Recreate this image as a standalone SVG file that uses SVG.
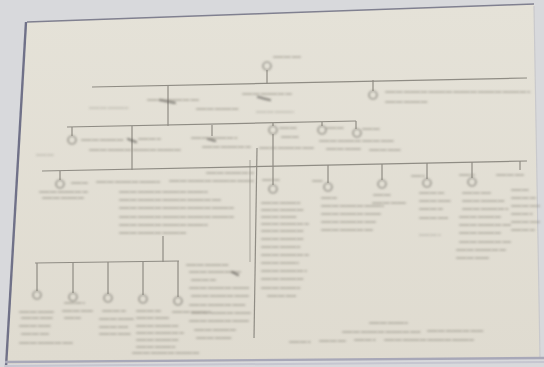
<svg xmlns="http://www.w3.org/2000/svg" width="544" height="367" viewBox="0 0 544 367">
<defs>
<linearGradient id="paper" x1="0" y1="0" x2="0" y2="1">
<stop offset="0" stop-color="#e5e2d8"/>
<stop offset="1" stop-color="#dfdbd0"/>
</linearGradient>
<filter id="bl" x="-5%" y="-5%" width="110%" height="110%"><feGaussianBlur stdDeviation="0.6"/></filter>
<filter id="bt" x="-5%" y="-20%" width="110%" height="140%"><feGaussianBlur stdDeviation="0.9"/></filter>
</defs>
<style>
.c{stroke:#8f8c84;stroke-width:1.2;fill:none}
.n{fill:none;stroke:#85827a;stroke-width:1.2}
.h{fill:none;stroke:#8d897f;stroke-width:2.2;stroke-linecap:round;stroke-dasharray:2.5 1 1.5 .8 3 2.2 1.8 1 2 2.8 1.2 .9 2.6 1.4;opacity:.45}
.f{opacity:.28}
.d{fill:none;stroke:#5e5b55;stroke-width:2.3;stroke-linecap:round;stroke-dasharray:2 1 1.5 .8;opacity:.65}
</style>
<rect width="544" height="367" fill="#d8d9dc"/>
<polygon points="27,22 534,4 540,358 5,364" fill="url(#paper)"/>
<g id="frame" fill="none" filter="url(#bl)">
<path d="M27 22 L534 4" stroke="#808090" stroke-width="1.5"/>
<path d="M26 22 L6 367" stroke="#707188" stroke-width="2.4"/>
<path d="M534 6 L540 358" stroke="#c9c9cc" stroke-width="1.2"/>
<path d="M5 362 L544 358" stroke="#a8a8b8" stroke-width="2.4"/>
<path d="M5 366 L544 362" stroke="#c6c6d0" stroke-width="2"/>
</g>
<g filter="url(#bl)">
<g id="connectors" class="c">
<path d="M267 70 L267 84"/>
<path d="M92 87 L527 78"/>
<path d="M168 86 L168 126"/>
<path d="M373 80 L373 91"/>
<path d="M67 127 L356 121"/>
<path d="M72 127 L72 136"/>
<path d="M132 126 L132 170"/>
<path d="M212 125 L212 136"/>
<path d="M273 123 L273 126 M273 134 L273 166"/>
<path d="M322 122 L322 126"/>
<path d="M356 121 L356 129"/>
<path d="M42 171 L527 161"/>
<path d="M60 171 L60 180"/>
<path d="M273 166 L273 185"/>
<path d="M328 165 L328 183"/>
<path d="M382 164 L382 180"/>
<path d="M427 163 L427 179"/>
<path d="M472 162 L472 178"/>
<path d="M520 161 L520 170"/>
<path d="M163 236 L163 262"/>
<path d="M35 263 L179 261"/>
<path d="M37 263 L37 291"/>
<path d="M73 263 L73 293"/>
<path d="M108 262 L108 294"/>
<path d="M143 262 L143 295"/>
<path d="M178 261 L178 297"/>
<path d="M257 148 L254 338"/>
<path d="M250 160 L250 262" opacity=".6"/>
</g>
</g>
<g filter="url(#bt)">
<g id="root"><circle class="n" cx="267" cy="66" r="4"/><path class="h" d="M274 57 H300"/></g>
<g id="g1-left"><path class="d" d="M160 100 L175 103"/><path class="h" d="M148 100 H198 M197 109 H238"/><path class="h f" d="M90 108 H128"/></g>
<g id="g1-mid"><path class="d" d="M258 97 L270 100"/><path class="h" d="M243 94 H292"/><path class="h f" d="M257 112 H293"/></g>
<g id="g1-right"><circle class="n" cx="373" cy="95" r="4"/><path class="h" d="M386 92 H530 M386 102 H427"/></g>
<g id="g2-a"><circle class="n" cx="72" cy="140" r="4"/><path class="h f" d="M37 155 H55"/></g>
<g id="g2-b"><path class="d" d="M128 139 L136 142"/><path class="h" d="M82 140 H125 M139 139 H160 M90 150 H180"/></g>
<g id="g2-c"><path class="d" d="M208 139 L216 141"/><path class="h" d="M192 138 H237 M203 147 H250"/></g>
<g id="g2-d"><circle class="n" cx="273" cy="130" r="4"/><path class="h" d="M280 128 H297 M282 137 H300 M260 148 H313"/></g>
<g id="g2-e"><circle class="n" cx="322" cy="130" r="4"/><path class="h" d="M327 128 H345 M320 141 H360 M327 149 H360"/></g>
<g id="g2-f"><circle class="n" cx="357" cy="133" r="4"/><path class="h" d="M363 129 H380 M363 141 H393 M370 150 H400"/></g>
<g id="g3-a"><circle class="n" cx="60" cy="184" r="4"/><path class="h" d="M72 183 H87 M40 192 H87 M43 198 H83"/></g>
<g id="g3-b"><path class="h" d="M97 182 H160 M170 181 H253 M207 173 H253 M120 192 H207 M120 200 H220 M120 208 H233 M120 217 H233 M120 225 H207 M120 233 H187"/></g>
<g id="g3-c"><circle class="n" cx="273" cy="189" r="4"/><path class="h" d="M263 180 H280 M262 203 H300 M262 210 H305 M262 217 H296 M262 224 H308 M262 231 H303 M262 239 H305 M262 247 H300 M262 255 H308 M262 263 H298 M262 271 H306 M262 279 H304 M262 288 H300 M268 296 H296"/></g>
<g id="g3-d"><circle class="n" cx="328" cy="187" r="4"/><path class="h" d="M313 181 H323 M322 198 H336 M322 206 H383 M322 214 H380 M322 222 H375 M322 230 H372"/></g>
<g id="g3-e"><circle class="n" cx="382" cy="184" r="4"/><path class="h" d="M374 195 H390 M373 203 H405"/></g>
<g id="g3-f"><circle class="n" cx="427" cy="183" r="4"/><path class="h" d="M412 176 H424 M420 193 H444 M420 201 H450 M420 209 H442 M420 218 H448"/><path class="h f" d="M420 235 H440"/></g>
<g id="g3-g"><circle class="n" cx="472" cy="182" r="4"/><path class="h" d="M460 175 H474 M463 193 H490 M463 201 H505 M463 209 H508 M460 217 H500 M460 225 H510 M460 233 H500 M460 242 H510 M457 250 H505 M457 258 H488"/></g>
<g id="g3-h"><path class="h" d="M497 175 H523 M512 190 H530 M512 198 H535 M512 206 H540 M512 214 H532 M512 222 H540 M512 230 H534"/></g>
<g id="g4-a"><circle class="n" cx="37" cy="295" r="4"/><path class="h" d="M20 312 H53 M22 318 H52 M20 326 H50 M22 334 H48 M20 343 H72"/></g>
<g id="g4-b"><circle class="n" cx="73" cy="297" r="4"/><path class="h" d="M65 303 H84 M63 311 H92 M65 318 H80"/></g>
<g id="g4-c"><circle class="n" cx="108" cy="298" r="4"/><path class="h" d="M103 311 H125 M100 319 H133 M100 327 H128 M100 334 H130"/></g>
<g id="g4-d"><circle class="n" cx="143" cy="299" r="4"/><path class="h" d="M137 311 H160 M137 318 H168 M137 326 H180 M137 333 H183 M137 340 H180 M137 347 H175 M133 353 H200"/></g>
<g id="g4-e"><circle class="n" cx="178" cy="301" r="4"/><path class="h" d="M173 312 H210"/></g>
<g id="g4-box"><path class="h" d="M187 265 H230 M190 272 H240 M192 280 H215 M190 288 H250 M192 296 H248 M190 305 H245 M192 313 H250 M190 321 H248 M195 330 H235 M197 338 H232"/><path class="d" d="M232 272 L238 275"/></g>
<g id="note"><path class="h" d="M370 323 H407 M343 332 H420 M428 331 H483 M290 342 H310 M320 341 H345 M355 340 H375 M385 340 H473"/></g>
</g>
</svg>
